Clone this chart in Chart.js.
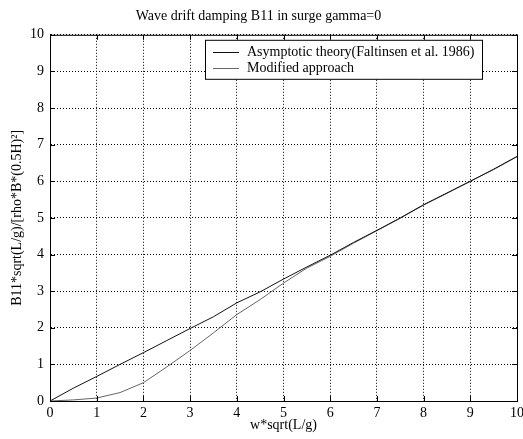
<!DOCTYPE html>
<html>
<head>
<meta charset="utf-8">
<title>Wave drift damping B11</title>
<script src="https://cdn.jsdelivr.net/npm/chart.js@4.4.1/dist/chart.umd.min.js"></script>
<style>
  html, body { margin: 0; padding: 0; background: #fff; }
  #wrap { width: 523px; height: 439px; }
</style>
</head>
<body>
<div id="wrap"><canvas id="chart" width="523" height="439"></canvas></div>
<script>
// valores
const freq = [0, 0.5, 1, 1.5, 2, 2.5, 3, 3.5, 4, 4.5, 5, 5.5, 6, 6.5, 7, 7.5, 8, 8.5, 9, 9.5, 10];
const asymptotic = [0, 0.35, 0.67, 1.0, 1.32, 1.65, 1.98, 2.3, 2.68, 2.98, 3.33, 3.66, 3.98, 4.33, 4.66, 5.0, 5.36, 5.68, 6.0, 6.33, 6.68];
const modified = [0, 0.03, 0.08, 0.23, 0.5, 0.93, 1.38, 1.86, 2.36, 2.77, 3.22, 3.63, 3.95, 4.31, 4.65, 4.99, 5.35, 5.67, 6.0, 6.32, 6.67];
const seriesNames = ['Asymptotic theory(Faltinsen et al. 1986)', 'Modified approach'];
const xTicks = [0, 1, 2, 3, 4, 5, 6, 7, 8, 9, 10];
const yTicks = [0, 1, 2, 3, 4, 5, 6, 7, 8, 9, 10];

const SERIF = "'Liberation Serif', 'DejaVu Serif', serif";

// ticks para dentro nos quatro lados
const innerTicks = {
  id: 'innerTicks',
  afterDraw(chart) {
    const { ctx, chartArea: a, scales } = chart;
    ctx.save();
    ctx.strokeStyle = '#000';
    ctx.lineWidth = 1;
    ctx.beginPath();
    xTicks.forEach(v => {
      const px = Math.round(scales.x.getPixelForValue(v)) + 0.5;
      ctx.moveTo(px, a.bottom); ctx.lineTo(px, a.bottom - 5);
      ctx.moveTo(px, a.top); ctx.lineTo(px, a.top + 5);
    });
    yTicks.forEach(v => {
      const py = Math.round(scales.y.getPixelForValue(v)) + 0.5;
      ctx.moveTo(a.left, py); ctx.lineTo(a.left + 5, py);
      ctx.moveTo(a.right, py); ctx.lineTo(a.right - 5, py);
    });
    ctx.stroke();
    ctx.strokeRect(a.left + 0.5, a.top + 0.5, a.right - a.left, a.bottom - a.top);
    ctx.restore();
  }
};

// legenda com caixa, estilo matlab
const boxLegend = {
  id: 'boxLegend',
  afterDatasetsDraw(chart) {
    const { ctx, chartArea: a } = chart;
    const sets = chart.data.datasets;
    ctx.save();
    ctx.font = '14px ' + SERIF;
    const textW = Math.max(...sets.map(d => ctx.measureText(d.label).width));
    const lineLen = 26, padL = 8, gap = 8, padR = 8, rowH = 16.5;
    const w = Math.round(padL + lineLen + gap + textW + padR);
    const h = 39;
    const right = a.right - 35;
    const left = right - w;
    const top = a.top + 5;
    ctx.fillStyle = '#fff';
    ctx.fillRect(left, top, w, h);
    ctx.strokeStyle = '#000';
    ctx.lineWidth = 1;
    ctx.strokeRect(left + 0.5, top + 0.5, w, h);
    ctx.textBaseline = 'middle';
    sets.forEach((d, i) => {
      const y = Math.round(top + 12 + i * rowH) + 0.5;
      ctx.strokeStyle = d.borderColor;
      ctx.beginPath();
      ctx.moveTo(left + padL, y);
      ctx.lineTo(left + padL + lineLen, y);
      ctx.stroke();
      ctx.fillStyle = '#000';
      ctx.fillText(d.label, left + padL + lineLen + gap, y);
    });
    ctx.restore();
  }
};

const ctx = document.getElementById('chart').getContext('2d');
new Chart(ctx, {
  type: 'line',
  data: {
    datasets: [
      {
        label: seriesNames[0],
        data: freq.map((x, i) => ({ x: x, y: asymptotic[i] })),
        borderColor: '#111',
        borderWidth: 1,
        pointRadius: 0,
        tension: 0
      },
      {
        label: seriesNames[1],
        data: freq.map((x, i) => ({ x: x, y: modified[i] })),
        borderColor: '#666',
        borderWidth: 1,
        pointRadius: 0,
        tension: 0
      }
    ]
  },
  options: {
    responsive: false,
    animation: false,
    layout: { padding: { top: 0, right: 6, left: 0, bottom: 0 } },
    plugins: {
      legend: { display: false },
      tooltip: { enabled: false },
      title: {
        display: true,
        text: 'Wave drift damping B11 in surge gamma=0',
        color: '#000',
        font: { family: SERIF, size: 14, weight: 'normal' },
        padding: { top: 8, bottom: 10 }
      }
    },
    scales: {
      x: {
        type: 'linear',
        min: 0,
        max: 10,
        afterBuildTicks: s => { s.ticks = xTicks.map(v => ({ value: v })); },
        afterFit: s => { s.height = 38; s.paddingLeft = 0; s.paddingRight = 0; },
        ticks: { color: '#000', font: { family: SERIF, size: 14 }, padding: 4, maxRotation: 0 },
        grid: { color: '#000', lineWidth: 1, drawTicks: false },
        border: { display: true, color: '#000', width: 1, dash: [1, 2] },
        title: {
          display: true,
          text: 'w*sqrt(L/g)',
          color: '#000',
          font: { family: SERIF, size: 14 },
          padding: { top: 0, bottom: 5 }
        }
      },
      y: {
        min: 0,
        max: 10,
        afterBuildTicks: s => { s.ticks = yTicks.map(v => ({ value: v })); },
        afterFit: s => { s.width = 50; s.paddingTop = 0; s.paddingBottom = 0; },
        ticks: { color: '#000', font: { family: SERIF, size: 14 }, padding: 6 },
        grid: { color: '#000', lineWidth: 1, drawTicks: false },
        border: { display: true, color: '#000', width: 1, dash: [1, 2] },
        title: {
          display: true,
          text: 'B11*sqrt(L/g)/[rho*B*(0.5H)\u00b2]',
          color: '#000',
          font: { family: SERIF, size: 14 },
          padding: { top: 9, bottom: 0 }
        }
      }
    }
  },
  plugins: [innerTicks, boxLegend]
});
</script>
</body>
</html>
